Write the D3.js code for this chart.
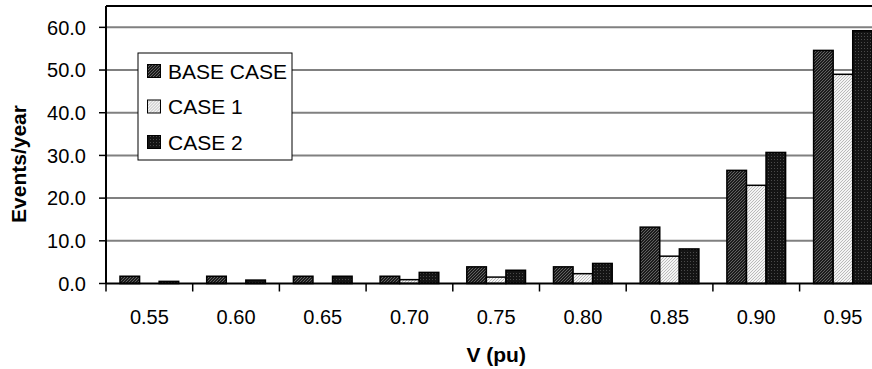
<!DOCTYPE html>
<html>
<head>
<meta charset="utf-8">
<script src="https://cdn.jsdelivr.net/npm/d3@7"></script>
<style>
  body { margin: 0; background: #fff; }
  svg { display: block; font-family: "Liberation Sans", Arial, sans-serif; }
  .grid line { stroke: #808080; stroke-width: 2; }
  .tick-label { font-size: 20px; fill: #000; }
  .axis-title { font-size: 21px; font-weight: bold; fill: #000; }
  .legend text { font-size: 21px; fill: #000; }
</style>
</head>
<body>
<svg class="chart" width="872" height="369"></svg>
<script>
let categories = ['0.55', '0.60', '0.65', '0.70', '0.75', '0.80', '0.85', '0.90', '0.95']
let seriesNames = ['BASE CASE', 'CASE 1', 'CASE 2']
let baseCase = [1.7, 1.7, 1.7, 1.7, 3.9, 3.9, 13.2, 26.5, 54.6]
let case1 = [0.0, 0.0, 0.0, 0.9, 1.5, 2.3, 6.4, 23.0, 49.0]
let case2 = [0.5, 0.8, 1.7, 2.6, 3.1, 4.7, 8.1, 30.7, 59.2]
let yTicks = [0, 10, 20, 30, 40, 50, 60]

let seriesValues = [baseCase, case1, case2]

let svg = d3.select('.chart')

// hatch fills like the old spreadsheet chart
let defs = svg.append('defs')

let pBase = defs.append('pattern')
  .attr('id', 'pat0')
  .attr('patternUnits', 'userSpaceOnUse')
  .attr('width', 3).attr('height', 3)
pBase.append('rect').attr('width', 3).attr('height', 3).attr('fill', '#1c1c1c')
pBase.append('path')
  .attr('d', 'M-1,1 L1,-1 M0,3 L3,0 M2,4 L4,2')
  .attr('stroke', '#6a6a6a').attr('stroke-width', 0.9)

let pCase1 = defs.append('pattern')
  .attr('id', 'pat1')
  .attr('patternUnits', 'userSpaceOnUse')
  .attr('width', 3).attr('height', 3)
pCase1.append('rect').attr('width', 3).attr('height', 3).attr('fill', '#f4f4f4')
pCase1.append('path')
  .attr('d', 'M-1,1 L1,-1 M0,3 L3,0 M2,4 L4,2')
  .attr('stroke', '#b4b4b4').attr('stroke-width', 0.9)

let pCase2 = defs.append('pattern')
  .attr('id', 'pat2')
  .attr('patternUnits', 'userSpaceOnUse')
  .attr('width', 3).attr('height', 3)
pCase2.append('rect').attr('width', 3).attr('height', 3).attr('fill', '#141414')
pCase2.append('rect').attr('width', 1).attr('height', 1).attr('fill', '#4a4a4a')

let left = 106
let catWidth = 86.7

let x = d3.scaleBand()
  .domain(categories)
  .range([left, left + catWidth * categories.length])

let xs = d3.scaleBand()
  .domain(seriesNames)
  .range([14, catWidth - 14])

let y = d3.scaleLinear()
  .domain([0, 65])
  .range([283.5, 6])

// gridlines
svg.append('g')
  .classed('grid', true)
  .selectAll('line')
  .data(yTicks.slice(1))
  .enter()
  .append('line')
  .attr('x1', x.range()[0])
  .attr('x2', x.range()[1])
  .attr('y1', d => y(d))
  .attr('y2', d => y(d))

// bars
let groups = svg.append('g')
  .selectAll('g')
  .data(seriesNames)
  .enter()
  .append('g')
  .attr('fill', (d, i) => `url(#pat${i})`)

groups.selectAll('rect')
  .data((s, si) => seriesValues[si].map((v, ci) => ({s, v, c: categories[ci]})))
  .enter()
  .append('rect')
  .attr('x', d => x(d.c) + xs(d.s))
  .attr('width', xs.bandwidth())
  .attr('y', d => y(d.v))
  .attr('height', d => y(0) - y(d.v))
  .attr('stroke', '#000')
  .attr('stroke-width', 1.5)

// frame of the plot area
let axisColor = '#000'
svg.append('line')
  .attr('x1', x.range()[0]).attr('x2', x.range()[1])
  .attr('y1', y(65)).attr('y2', y(65))
  .attr('stroke', axisColor).attr('stroke-width', 2)
svg.append('line')
  .attr('x1', x.range()[0]).attr('x2', x.range()[0])
  .attr('y1', y(65)).attr('y2', y(0))
  .attr('stroke', axisColor).attr('stroke-width', 2)

// y axis ticks + labels
svg.selectAll('.y-tick')
  .data(yTicks)
  .enter()
  .append('line')
  .classed('y-tick', true)
  .attr('x1', left - 7).attr('x2', left)
  .attr('y1', d => y(d)).attr('y2', d => y(d))
  .attr('stroke', axisColor).attr('stroke-width', 1.5)

svg.selectAll('.y-label')
  .data(yTicks)
  .enter()
  .append('text')
  .classed('tick-label', true)
  .attr('x', 86)
  .attr('y', d => y(d))
  .attr('dy', '0.36em')
  .attr('text-anchor', 'end')
  .text(d => d.toFixed(1))

// x axis
svg.append('line')
  .attr('x1', x.range()[0]).attr('x2', x.range()[1])
  .attr('y1', y(0)).attr('y2', y(0))
  .attr('stroke', axisColor).attr('stroke-width', 2)

svg.selectAll('.x-tick')
  .data(categories)
  .enter()
  .append('line')
  .classed('x-tick', true)
  .attr('x1', d => x(d)).attr('x2', d => x(d))
  .attr('y1', y(0)).attr('y2', y(0) + 8)
  .attr('stroke', axisColor).attr('stroke-width', 1.5)

svg.selectAll('.x-label')
  .data(categories)
  .enter()
  .append('text')
  .classed('tick-label', true)
  .attr('x', d => x(d) + x.bandwidth() / 2)
  .attr('y', 323.5)
  .attr('text-anchor', 'middle')
  .text(d => d)

// axis titles
svg.append('text')
  .classed('axis-title', true)
  .attr('x', (x.range()[0] + x.range()[1]) / 2)
  .attr('y', 362)
  .attr('text-anchor', 'middle')
  .text('V (pu)')

svg.append('text')
  .classed('axis-title', true)
  .attr('transform', 'translate(25.5,164) rotate(-90)')
  .attr('text-anchor', 'middle')
  .text('Events/year')

// legend
let legend = svg.append('g')
  .classed('legend', true)
  .attr('transform', 'translate(138,53)')

legend.append('rect')
  .attr('width', 154)
  .attr('height', 107)
  .attr('fill', '#fff')
  .attr('stroke', '#000')
  .attr('stroke-width', 1)

let items = legend.selectAll('.item')
  .data(seriesNames)
  .enter()
  .append('g')
  .classed('item', true)
  .attr('transform', (d, i) => `translate(0,${18 + i * 35.5})`)

items.append('rect')
  .attr('x', 9.5).attr('y', -6.5)
  .attr('width', 13).attr('height', 13)
  .attr('fill', (d, i) => `url(#pat${i})`)
  .attr('stroke', '#000')
  .attr('stroke-width', 1)

items.append('text')
  .attr('x', 30)
  .attr('y', 7.5)
  .text(d => d)
</script>
</body>
</html>
